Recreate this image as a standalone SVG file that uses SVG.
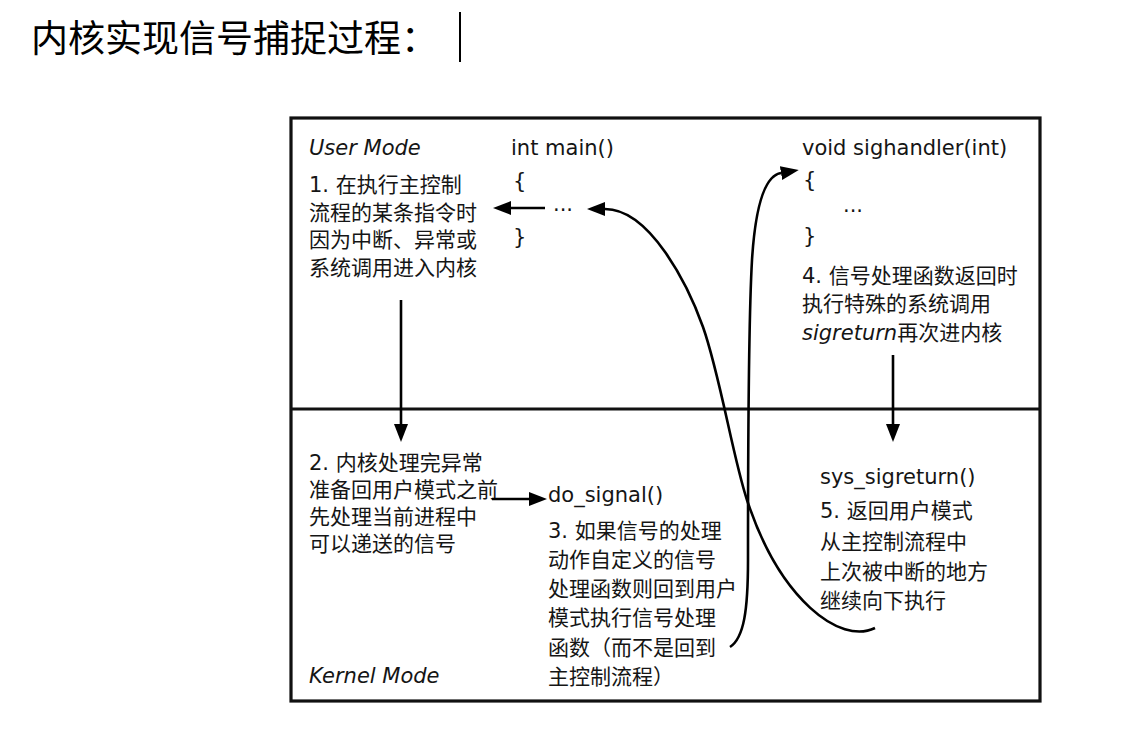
<svg xmlns="http://www.w3.org/2000/svg" width="1123" height="734" viewBox="0 0 1123 734">
  <style>
    .t { font-family: "DejaVu Sans", "Noto Sans CJK SC", sans-serif; font-size: 21px; fill: #151515; }
    .i { font-style: italic; }
    .title { font-family: "Noto Sans CJK SC", sans-serif; font-size: 37px; fill: #000; }
    .frame { fill: none; stroke: #111; stroke-width: 3.2; }
    .conn { fill: none; stroke: #000; stroke-width: 2.6; }
  </style>
  <defs>
    <marker id="ah" viewBox="0 0 18 14" refX="0" refY="7" markerWidth="18" markerHeight="14" markerUnits="userSpaceOnUse" orient="auto">
      <path d="M0,0 L18,7 L0,14 z" fill="#000"/>
    </marker>
  </defs>
  <rect width="1123" height="734" fill="#fff"/>

  <g id="title">
    <text class="title" x="31" y="52">内核实现信号捕捉过程：</text>
    <line x1="460" y1="12" x2="460" y2="62" stroke="#000" stroke-width="2"/>
  </g>

  <g id="frame">
    <rect class="frame" x="291" y="118" width="749" height="583"/>
    <line class="frame" x1="291" y1="409" x2="1040" y2="409"/>
  </g>

  <g id="user-mode-label">
    <text class="t i" x="309" y="155">User Mode</text>
  </g>
  <g id="kernel-mode-label">
    <text class="t i" x="309" y="683">Kernel Mode</text>
  </g>

  <g id="main">
    <text class="t" x="511" y="155">int main()</text>
    <text class="t" x="513" y="188">{</text>
    <text class="t" x="553" y="211">...</text>
    <text class="t" x="513" y="244">}</text>
  </g>

  <g id="sighandler">
    <text class="t" x="802" y="155">void sighandler(int)</text>
    <text class="t" x="803" y="187">{</text>
    <text class="t" x="843" y="212">...</text>
    <text class="t" x="803" y="243">}</text>
  </g>

  <g id="step1">
    <text class="t" x="309" y="192">1. 在执行主控制</text>
    <text class="t" x="309" y="219.5">流程的某条指令时</text>
    <text class="t" x="309" y="247">因为中断、异常或</text>
    <text class="t" x="309" y="274.5">系统调用进入内核</text>
  </g>

  <g id="step4">
    <text class="t" x="802" y="283">4. 信号处理函数返回时</text>
    <text class="t" x="802" y="311">执行特殊的系统调用</text>
    <text class="t" x="802" y="340"><tspan class="i">sigreturn</tspan>再次进内核</text>
  </g>

  <g id="step2">
    <text class="t" x="309" y="470">2. 内核处理完异常</text>
    <text class="t" x="309" y="497">准备回用户模式之前</text>
    <text class="t" x="309" y="524">先处理当前进程中</text>
    <text class="t" x="309" y="551">可以递送的信号</text>
  </g>

  <g id="do-signal">
    <text class="t" x="548" y="502">do_signal()</text>
    <text class="t" x="548" y="538">3. 如果信号的处理</text>
    <text class="t" x="548" y="567">动作自定义的信号</text>
    <text class="t" x="548" y="596">处理函数则回到用户</text>
    <text class="t" x="548" y="625">模式执行信号处理</text>
    <text class="t" x="548" y="655">函数（而不是回到</text>
    <text class="t" x="548" y="684">主控制流程）</text>
  </g>

  <g id="sys-sigreturn">
    <text class="t" x="820" y="484">sys_sigreturn()</text>
    <text class="t" x="820" y="518">5. 返回用户模式</text>
    <text class="t" x="820" y="549">从主控制流程中</text>
    <text class="t" x="820" y="579">上次被中断的地方</text>
    <text class="t" x="820" y="608">继续向下执行</text>
  </g>

  <g id="connectors">
    <path class="conn" d="M545,208 L511,208" marker-end="url(#ah)"/>
    <path class="conn" d="M401,300 L401,424" marker-end="url(#ah)"/>
    <path class="conn" d="M492,499 L529,499" marker-end="url(#ah)"/>
    <path class="conn" d="M893,355 L893,424" marker-end="url(#ah)"/>
    <path class="conn" d="M730,647 C744,638 748,610 748,560 C748,470 748,330 752,260 C755,212 763,176 781,173" marker-end="url(#ah)"/>
    <path class="conn" d="M875,628 C840,645 780,600 747,500 C733,458 720,375 703,327 C688,285 650,209 605,209" marker-end="url(#ah)"/>
  </g>
</svg>
